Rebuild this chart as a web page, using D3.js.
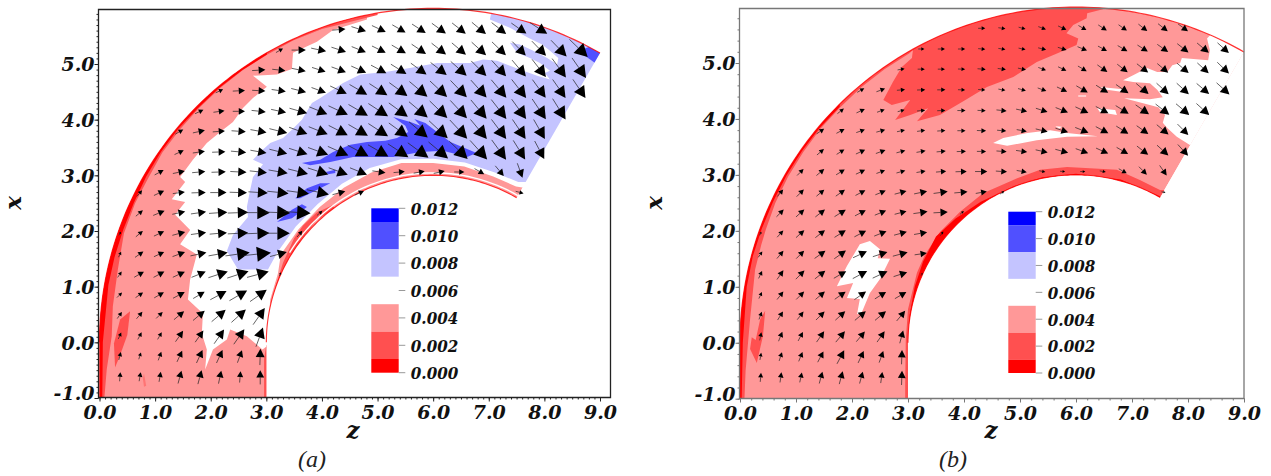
<!DOCTYPE html>
<html><head><meta charset="utf-8">
<script src="https://cdn.jsdelivr.net/npm/d3@7"></script>
<style>html,body{margin:0;padding:0;background:#fff}svg{display:block}</style>
</head><body><svg id="c" width="1271" height="476"></svg>
<script>
// ---- axis labels
const zTicks=[0,1,2,3,4,5,6,7,8,9];
const xTicks=[-1,0,1,2,3,4,5];
const legendLevels=[0.012,0.010,0.008,0.006,0.004,0.002,0.000];
const legendBandEdges=[0.012,0.011,0.009,0.007,0.005,0.003,0.001,0.000];
const legendBandColors=["#0000ff","#5050ff","#c4c4ff","#ffffff","#ff9898","#ff5050","#ff0000"];

// ---- arrow grid
const rowX=[5.62,5.25,4.89,4.52,4.15,3.79,3.42,3.06,2.69,2.33,1.96,1.59,1.23,0.86,0.50,0.13,-0.23,-0.60];
const colZ=[0.37,0.73,1.09,1.45,1.81,2.17,2.53,2.89,3.25,3.61,3.97,4.33,4.69,5.05,5.41,5.77,6.13,6.49,6.85,7.21,7.57,7.93,8.29,8.65];
const rowCols=[
[11,12,13,14,15,16,17,18,19,20,21],
[8,9,10,11,12,13,14,15,16,17,18,19,20,21,22,23],
[7,8,9,10,11,12,13,14,15,16,17,18,19,20,21,22,23],
[5,6,7,8,9,10,11,12,13,14,15,16,17,18,19,20,21,22,23],
[4,5,6,7,8,9,10,11,12,13,14,15,16,17,18,19,20,21,22],
[3,4,5,6,7,8,9,10,11,12,13,14,15,16,17,18,19,20,21],
[3,4,5,6,7,8,9,10,11,12,13,14,15,16,17,18,19,20,21],
[2,3,4,5,6,7,8,9,10,11,12,13,14,15,16,17,18,19,20],
[1,2,3,4,5,6,7,8,9,10,11,12,20],
[1,2,3,4,5,6,7,8,9,10],
[0,1,2,3,4,5,6,7,8,9],
[0,1,2,3,4,5,6,7,8],
[0,1,2,3,4,5,6,7,8],
[0,1,2,3,4,5,6,7],[0,1,2,3,4,5,6,7],[0,1,2,3,4,5,6,7],[0,1,2,3,4,5,6,7],[0,1,2,3,4,5,6,7]];

const speedA=[
[13,15,15,15,16,17,17,18,18,18,20],
[8,14,15,15,15,15,16,17,18,18,19,19,19,20,22,25],
[13,13,14,14,15,16,17,18,19,20,21,21,21,21,22,23,24],
[8,12,13,14,15,15,18,20,21,22,23,23,23,23,23,23,22,22,22],
[9,11,12,14,15,18,19,21,22,23,23,24,24,24,24,24,24,24,24],
[9,12,12,14,16,18,19,20,21,22,23,23,24,25,25,25,24,23,22],
[10,12,13,15,16,18,19,21,22,23,23,24,25,25,25,25,24,22,20],
[10,12,13,14,16,17,19,20,21,20,18,13,11,11,11,10,11,13,15],
[8,11,12,14,16,17,19,21,22,22,13,10,8],
[9,12,13,15,18,20,24,25,26,7],
[4,9,11,13,15,17,20,23,24,8],
[6,10,11,13,16,19,24,27,17],
[7,11,12,13,15,20,22,22,4],
[7,9,11,13,13,18,20,20],
[8,9,9,13,15,18,19,20],
[7,8,8,13,14,17,18,20],
[8,7,9,12,14,14,13,16],
[9,9,10,13,14,13,11,14]];
const angleA=[
[5,-18,-25,-30,-33,-36,-38,-40,-38,-35,-33],
[30,0,-12,-18,-22,-26,-30,-34,-38,-40,-42,-44,-46,-46,-46,-44],
[3,-6,-12,-18,-20,-24,-28,-32,-36,-38,-42,-45,-48,-50,-52,-54,-55],
[25,3,-3,-8,-14,-20,-25,-30,-33,-36,-40,-43,-46,-48,-50,-52,-54,-55,-56],
[25,8,0,-6,-12,-16,-22,-25,-30,-33,-36,-40,-44,-47,-50,-52,-54,-56,-58],
[30,12,4,-4,-10,-14,-20,-22,-27,-30,-33,-36,-40,-43,-47,-50,-53,-56,-60],
[25,8,2,-5,-10,-14,-18,-20,-24,-28,-30,-33,-36,-40,-44,-48,-54,-58,-62],
[28,12,5,2,-3,-6,-10,-14,-18,-20,-22,-8,5,10,12,0,-30,-50,-70],
[50,25,8,2,0,-2,-4,-6,-8,-12,15,25,-15],
[40,22,12,8,4,2,0,-2,-4,40],
[60,40,25,15,8,5,3,2,0,50],
[65,35,25,20,12,10,8,6,15],
[55,30,28,25,22,18,18,15,70],
[45,35,30,28,30,28,30,35],
[55,50,45,40,40,40,42,55],
[65,62,60,55,55,55,55,70],
[75,72,70,65,65,65,70,88],
[85,80,80,75,75,78,85,90]];
const speedB=[
[7,7,7,8,9,9,10,10,11,12,12],
[6,7,7,7,7,7,8,9,10,10,11,12,13,14,15,15],
[7,7,7,7,8,8,8,8,9,10,12,13,14,14,15,15,16],
[8,9,8,8,8,7,7,7,8,9,11,13,14,15,16,16,16,16,17],
[8,9,8,7,8,8,8,8,10,11,12,13,14,14,15,16,17,17,17],
[9,9,9,9,8,8,8,8,9,9,10,12,13,14,14,14,14,15,15],
[9,9,10,10,9,9,9,9,9,10,11,12,13,13,13,13,14,15,15],
[9,10,10,10,9,9,9,10,11,12,11,10,6,5,5,6,9,11,12],
[9,10,10,11,11,11,12,13,14,13,11,5,4],
[10,11,12,13,12,12,12,14,14,5],
[4,9,11,12,13,13,13,13,13,5],
[7,10,11,13,14,15,15,15,12],
[8,11,12,13,14,16,16,14,3],
[7,10,11,12,13,14,13,13],
[8,10,10,12,13,14,14,13],
[8,10,10,13,14,13,13,13],
[7,9,10,12,15,13,12,14],
[9,10,10,12,13,12,11,14]];
const angleB=[
[0,-8,-15,-20,-25,-30,-33,-35,-38,-38,-36],
[0,0,0,-5,-8,-12,-14,-18,-22,-28,-30,-32,-35,-38,-40,-42],
[10,0,0,-2,-5,-8,-12,-20,-25,-30,-35,-38,-38,-40,-40,-42,-44],
[30,20,5,2,0,-2,-5,-10,-15,-20,-25,-30,-32,-35,-40,-42,-42,-40,-42],
[38,25,20,15,5,2,0,-2,-6,-12,-18,-22,-25,-28,-32,-35,-38,-40,-42],
[35,28,20,15,12,8,4,0,-2,-5,-10,-14,-18,-22,-28,-32,-35,-40,-45],
[40,32,25,20,15,10,5,2,0,-4,-8,-12,-15,-20,-24,-30,-38,-42,-48],
[45,40,32,25,20,15,10,5,2,0,-4,-10,-12,-6,0,-10,-30,-45,-55],
[50,45,40,35,28,22,15,12,8,5,10,35,-10],
[45,42,38,32,28,22,15,8,3,40],
[65,48,42,38,32,28,22,15,10,55],
[55,50,45,35,35,25,18,15,8],
[65,55,45,38,30,28,25,18,65],
[65,52,45,40,35,35,32,30],
[70,58,52,45,42,40,40,50],
[78,68,62,55,50,50,55,75],
[80,72,68,62,62,65,70,88],
[85,82,78,75,75,75,82,88]];

// ---- contour regions, panel (a), [z,x]
const aLavender=[[2.49,1.31],[2.29,1.64],[2.40,1.93],[2.67,2.25],[2.65,2.43],[2.71,2.74],[2.76,2.97],[2.94,3.20],[2.76,3.28],[2.89,3.42],[3.07,3.58],[3.30,3.67],[3.46,3.82],[3.64,4.0],[3.82,4.30],[3.97,4.39],[4.38,4.66],[4.69,4.81],[5.17,4.86],[5.58,4.93],[6.07,5.02],[6.66,5.02],[6.90,5.08],[7.15,5.06],[7.38,4.97],[7.62,4.88],[7.87,4.79],[8.10,4.72],[8.01,4.84],[8.10,4.88],[7.92,5.02],[7.74,5.11],[7.51,5.20],[7.38,5.38],[7.56,5.35],[7.80,5.24],[8.05,5.11],[8.23,4.99],[8.25,5.11],[8.10,5.24],[7.96,5.35],[7.71,5.47],[7.38,5.65],[7.02,5.80],[7.1,6.2],[9.5,6.0],[9.5,2.88],[7.53,2.88],[7.11,3.05],[6.57,3.23],[6.0,3.30],[5.42,3.29],[4.86,3.13],[4.36,2.85],[3.92,2.48],[3.53,2.08],[3.20,1.62],[3.03,1.31]];
const aBlue=[[3.64,3.22],[3.97,3.28],[4.20,3.42],[4.51,3.55],[4.81,3.60],[5.14,3.62],[5.35,3.67],[5.55,3.78],[5.50,3.89],[5.28,4.05],[5.59,3.96],[5.77,3.89],[5.66,4.01],[5.86,3.94],[6.07,3.78],[6.31,3.60],[6.78,3.40],[6.61,3.33],[6.18,3.44],[5.77,3.42],[5.28,3.33],[4.56,3.33],[4.15,3.24],[3.79,3.18]];
const aBlueBlob1=[[4.07,3.06],[4.24,3.10],[4.24,3.04],[4.11,3.02]];
const aBlueBlob2=[[3.52,2.59],[3.73,2.77],[3.97,2.86],[4.15,2.86],[3.97,2.77],[3.79,2.68],[3.61,2.59]];
const aBlueBlob3=[[3.19,2.16],[3.46,2.38],[3.64,2.48],[3.73,2.43],[3.61,2.34],[3.46,2.23]];
const aBlueCorner=[[8.68,5.26],[9.3,5.5],[9.3,4.9],[8.91,5.02],[8.73,5.15]];
const aPink=[[4.81,5.80],[4.20,5.61],[3.91,5.40],[3.48,5.20],[3.46,4.91],[3.19,4.81],[2.76,4.79],[3.01,4.59],[2.76,4.39],[2.58,4.21],[2.40,3.96],[2.17,3.78],[1.93,3.58],[1.68,3.28],[1.45,2.97],[1.54,2.88],[1.30,2.57],[1.54,2.52],[1.36,2.29],[1.63,2.02],[1.45,1.76],[1.75,1.58],[1.63,1.13],[1.59,0.77],[1.86,0.52],[1.84,0.16],[1.93,-0.13],[1.90,-0.49],[2.04,-0.13],[2.29,0.05],[2.35,0.23],[2.65,0.11],[2.93,-0.13],[3.01,-0.07],[3.3,-0.07],[3.3,-1.2],[-0.5,-1.2],[-0.5,6.5],[4.81,6.5]];
const aRing=[[3.01,-0.07],[3.07,0.77],[3.21,1.24],[3.26,1.58],[3.58,2.03],[3.96,2.43],[4.40,2.78],[4.89,3.05],[5.43,3.22],[6.0,3.22],[6.56,3.16],[7.08,2.98],[7.49,2.80],[7.8,2.75],[7.6,2.4],[6,2.5],[4.5,1.5],[3.5,0.5],[3.05,-0.07]];
const aRingDark=[[3.03,-0.05],[3.08,0.57],[3.17,1.02],[3.3,1.43],[3.5,1.87],[3.66,2.10],[3.9,2.33],[4.18,2.46],[4.24,2.41],[3.9,2.19],[3.65,1.86],[4,1],[3.05,-0.05]];
const aInletDark=[[2.96,-1.2],[2.96,-0.3],[3.0,-0.05],[3.3,-0.05],[3.3,-1.2]];
const aPocket=[[0.55,0.56],[0.50,0.13],[0.37,-0.23],[0.28,-0.45],[0.26,-0.02],[0.37,0.41]];
const aSliver=[[0.80,-0.56],[0.84,-0.78],[0.80,-0.80],[0.78,-0.65]];
const aOuterDark=[[0.09,-1.2],[0.09,-0.97],[0.13,-0.49],[0.22,0.11],[0.24,0.65],[0.33,1.31],[0.44,1.96],[0.64,2.50],[0.86,2.92],[1.13,3.41],[1.44,3.82],[1.79,4.21],[2.17,4.57],[2.58,4.89],[3.02,5.17],[3.48,5.42],[4.0,5.63],[5,5.88],[5,7],[-1,7],[-1,-1.2]];
const aOuterRed=[[0.05,-1.2],[0.05,-1],[0.06,0],[0.16,1.03],[0.27,1.53],[0.43,2.03],[0.62,2.51],[0.84,2.98],[1.11,3.43],[1.42,3.84],[1.78,4.22],[2.16,4.58],[2.57,4.89],[3.01,5.17],[3.01,7],[-1,7],[-1,-1.2]];

// ---- contour regions, panel (b), [z,x]
const bDark=[[3.07,5.09],[2.89,4.93],[2.73,4.66],[2.56,4.34],[2.71,4.25],[3.04,4.34],[2.77,3.98],[3.04,4.07],[3.36,4.19],[3.16,3.96],[3.57,4.07],[3.98,4.31],[4.41,4.57],[4.88,4.75],[5.30,5.02],[5.66,5.17],[6.01,5.32],[6.04,5.44],[5.83,5.53],[5.95,5.68],[6.19,5.80],[6.20,5.89],[6.48,5.96],[6.48,6.2],[3.2,6.2],[3.1,5.32]];
const bWhiteBlob=[[1.73,1.01],[1.91,1.37],[2.14,1.76],[2.32,1.82],[2.50,1.67],[2.46,1.51],[2.68,1.50],[2.50,1.14],[2.32,0.89],[2.17,0.53],[2.09,0.51],[2.14,0.78],[1.91,0.80],[2.02,1.07]];
const bWhiteOutlet=[[8.34,5.44],[8.48,5.59],[9.29,5.23],[9.3,3.53],[8.04,3.53],[7.80,3.68],[7.63,3.84],[7.55,3.93],[7.59,4.07],[7.47,4.21],[6.86,4.37],[7.32,4.35],[7.55,4.39],[7.45,4.52],[7.32,4.64],[7.02,4.66],[6.84,4.69],[7.02,4.78],[7.27,4.91],[7.45,4.84],[7.63,4.84],[7.72,4.96],[7.86,5.0],[7.89,5.09],[8.36,5.05],[8.39,5.23]];
const bWhiteLong=[[4.52,3.57],[4.70,3.66],[5.13,3.75],[5.54,3.80],[5.84,3.75],[6.39,3.69],[5.84,3.68],[5.30,3.62],[4.77,3.52]];
const bWhiteBit1=[[5.63,3.87],[5.75,3.86],[5.70,3.83]];
const bWhiteBit2=[[6.38,4.19],[6.70,4.16],[6.73,4.07],[6.43,4.12]];
const bWhiteBit3=[[6.04,4.42],[6.18,4.42],[6.18,4.40],[6.04,4.40]];
const bWhiteBit4=[[6.43,4.57],[6.84,4.53],[6.84,4.48],[6.55,4.52]];
const bRingDark=[[2.95,-1.2],[2.95,-0.77],[2.96,0.05],[3.0,0.60],[3.16,1.25],[3.30,1.57],[3.57,1.98],[3.93,2.34],[4.34,2.67],[4.95,2.94],[5.36,3.09],[5.84,3.14],[6.25,3.12],[6.73,3.09],[7.14,2.91],[7.5,2.73],[7.7,2.73],[7.6,2.4],[6,2.5],[4.5,1.5],[3.5,0.5],[3.3,-1.2]];
const bRingRed=[[3.0,0],[3.03,0.5],[3.12,1.0],[3.27,1.45],[3.5,1.9],[3.85,2.22],[4.3,2.52],[4.9,2.80],[5.4,2.96],[6,3.02],[6.8,2.92],[7.5,2.62],[7.6,2.4],[6,2.5],[4.5,1.5],[3.5,0.5],[3.3,0]];
const bPocket=[[0.45,0.57],[0.41,0.12],[0.30,-0.36],[0.18,-0.11],[0.21,0.10],[0.28,0.05],[0.36,0.42]];
const bOuterDark=[[0.08,-1.2],[0.08,-0.99],[0.10,-0.5],[0.18,0.42],[0.27,1.31],[0.38,1.75],[0.46,2.02],[0.63,2.50],[0.86,2.97],[1.13,3.41],[1.44,3.83],[1.79,4.21],[2.17,4.57],[2.58,4.89],[3.02,5.17],[3.10,5.24],[3.1,7],[-1,7],[-1,-1.2]];
const bOuterRed=[[0.03,-1.2],[0.03,-1],[0.05,0],[0.12,1.0],[0.23,1.55],[0.39,2.04],[0.59,2.52],[0.83,2.99],[1.11,3.43],[1.42,3.84],[1.78,4.22],[1.78,7],[-1,7],[-1,-1.2]];

const lavender="#c4c4ff",blue="#5050ff",pink="#ff9898",dark="#ff5050",red="#ff0000";

const layersA=[[aLavender,lavender],[aBlue,blue],[aBlueBlob1,blue],[aBlueBlob2,blue],[aBlueBlob3,blue],[aBlueCorner,blue],
  [aPink,pink],[aRing,pink],[aRingDark,dark],[aInletDark,dark],[aPocket,dark],[aSliver,"#ff7474"],[aOuterDark,dark],[aOuterRed,red]];
const layersB=[[bDark,dark],[bWhiteBlob,"#fff"],[bWhiteOutlet,"#fff"],[bWhiteLong,"#fff"],[bWhiteBit1,"#fff"],[bWhiteBit2,"#fff"],[bWhiteBit3,"#fff"],[bWhiteBit4,"#fff"],
  [bRingDark,dark],[bRingRed,red],[bPocket,dark],[bOuterDark,dark],[bOuterRed,red]];

const panels=[
 {id:"a",base:null,layers:layersA,speed:speedA,angle:angleA,x0:99.5,x9:600,y5:64,ym1:398,
  left:98.5,right:610.5,top:9.5,bottom:397.5,frame:"#222",minor:0.1,
  legY:[208.3,372.7],legX:371.3,capX:312,cap:"(a)",zLab:353,xLab:15,gap:true},
 {id:"b",base:pink,layers:layersB,speed:speedB,angle:angleB,x0:740,x9:1244,y5:63,ym1:398.7,
  left:739.5,right:1244,top:8.5,bottom:398.5,frame:"#777",minor:0.2,
  legY:[211.7,373],legX:1008.3,capX:953,cap:"(b)",zLab:991,xLab:656,gap:false}
];

const svg=d3.select("#c");
const serif="'DejaVu Serif',serif";

panels.forEach(p=>{
  const sx=d3.scaleLinear().domain([0,9]).range([p.x0,p.x9]);
  const sy=d3.scaleLinear().domain([-1,5]).range([p.ym1,p.y5]);
  const line=d3.line().x(d=>sx(d[0])).y(d=>sy(d[1]));
  const polar=(r,deg)=>[6+r*Math.cos(deg*Math.PI/180),r*Math.sin(deg*Math.PI/180)];
  const outerArc=d3.range(180,60,-1).concat([60]).map(t=>polar(6,t));
  const innerArc=d3.range(60,180,1).concat([180]).map(t=>polar(3,t));
  const duct=[[0,-1]].concat(outerArc,innerArc,[[3,-1]]);

  const g=svg.append("g");
  g.append("clipPath").attr("id","duct"+p.id).append("path").attr("d",line(duct)+"Z");

  const field=g.append("g").attr("clip-path",`url(#duct${p.id})`);
  if(p.base) field.append("path").attr("d",line(duct)+"Z").attr("fill",p.base);
  field.selectAll("path.r").data(p.layers).join("path").attr("class","r")
    .attr("d",d=>line(d[0])+"Z").attr("fill",d=>d[1]);

  if(p.gap){
    g.append("path").attr("d",line(d3.range(60,150,2).map(t=>polar(3.045,t))))
     .attr("fill","none").attr("stroke","#fff").attr("stroke-width",1.4);
  }
  // wall lines
  g.append("path").attr("d",line(outerArc)).attr("fill","none").attr("stroke",red).attr("stroke-width",1.2).attr("stroke-opacity",0.8);
  g.append("path").attr("d",line(innerArc)).attr("fill","none").attr("stroke",red).attr("stroke-width",1.1).attr("stroke-opacity",0.8);

  // arrows
  const lenScale=d3.scaleLinear().domain([0,30]).range([0,30]);
  const arrows=[];
  rowX.forEach((xv,i)=>rowCols[i].forEach((k,j)=>{
    arrows.push({z:colZ[k],x:xv,m:p.speed[i][j],a:p.angle[i][j]});
  }));
  const ag=g.append("g");
  arrows.forEach(d=>{
    const L=lenScale(d.m),t=d.a*Math.PI/180,ux=Math.cos(t),uy=-Math.sin(t);
    const cx=sx(d.z),cy=sy(d.x);
    const tx=cx-0.62*L*ux,ty=cy-0.62*L*uy,hx=cx+0.40*L*ux,hy=cy+0.40*L*uy;
    const bx=hx-0.52*L*ux,by=hy-0.52*L*uy,w=0.28*L;
    ag.append("path").attr("d",`M${tx},${ty}L${bx},${by}`).attr("stroke","#222").attr("stroke-width",0.7);
    ag.append("path").attr("d",`M${hx},${hy}L${bx-uy*w},${by+ux*w}L${bx+uy*w},${by-ux*w}Z`).attr("fill","#000");
  });

  // frame
  g.append("path").attr("d",`M${p.left},${p.bottom}V${p.top}H${p.right}V${p.bottom}Z`)
    .attr("fill","none").attr("stroke",p.frame).attr("stroke-width",1.3);

  // axes
  const fmt=d=>d3.format(".1f")(d).replace("\u2212","-");
  const xAxis=d3.axisBottom(sx).tickValues(zTicks).tickFormat(fmt).tickSize(4).tickPadding(3);
  const xa=g.append("g").attr("transform",`translate(0,${p.bottom})`).call(xAxis);
  const xm=d3.axisBottom(sx).tickValues(d3.range(0,9.01,p.minor)).tickFormat("").tickSize(2);
  g.append("g").attr("transform",`translate(0,${p.bottom})`).call(xm).call(s=>s.select(".domain").remove()).selectAll("line").attr("stroke",p.frame);
  const yAxis=d3.axisLeft(sy).tickValues(xTicks).tickFormat(fmt).tickSize(4).tickPadding(0);
  const ya=g.append("g").attr("transform",`translate(${p.left},0)`).call(yAxis);
  const ym=d3.axisLeft(sy).tickValues(d3.range(-1,5.95,p.minor)).tickFormat("").tickSize(2);
  g.append("g").attr("transform",`translate(${p.left},0)`).call(ym).call(s=>s.select(".domain").remove()).selectAll("line").attr("stroke",p.frame);
  [xa,ya].forEach(a=>{
    a.select(".domain").remove();
    a.selectAll("line").attr("stroke",p.frame);
    a.selectAll("text").attr("font-family",serif).attr("font-weight","bold").attr("font-style","italic").attr("font-size",19).attr("fill","#111");
  });
  ya.selectAll("text").attr("dy",d=>d===-1?"0.1em":"0.36em");
  xa.selectAll("text").attr("dy","0.74em");

  // legend
  const ly=d3.scaleLinear().domain([0.012,0]).range(p.legY);
  const lg=g.append("g");
  d3.range(legendBandColors.length).forEach(i=>{
    lg.append("rect").attr("x",p.legX).attr("width",27.4)
      .attr("y",ly(legendBandEdges[i])).attr("height",ly(legendBandEdges[i+1])-ly(legendBandEdges[i]))
      .attr("fill",legendBandColors[i]);
  });
  legendLevels.forEach(v=>{
    lg.append("line").attr("x1",p.legX+27.4).attr("x2",p.legX+34).attr("y1",ly(v)).attr("y2",ly(v)).attr("stroke","#999");
    lg.append("text").attr("x",p.legX+39.5).attr("y",ly(v)).attr("dy","0.36em").text(d3.format(".3f")(v))
      .attr("textLength",47.5).attr("lengthAdjust","spacingAndGlyphs")
      .attr("font-family",serif).attr("font-weight","bold").attr("font-style","italic").attr("font-size",17.5).attr("fill","#111");
  });

  // titles
  g.append("text").attr("x",p.zLab).attr("y",438).attr("text-anchor","middle").text("z")
    .attr("font-family",serif).attr("font-weight","bold").attr("font-style","italic").attr("font-size",23).attr("fill","#111");
  g.append("text").attr("transform",`translate(${p.xLab+6},203) rotate(-90)`).attr("text-anchor","middle").text("x")
    .attr("font-family",serif).attr("font-weight","bold").attr("font-style","italic").attr("font-size",23).attr("fill","#111");
  g.append("text").attr("x",p.capX).attr("y",467).attr("text-anchor","middle").text(p.cap)
    .attr("font-family","'Liberation Serif',serif").attr("font-style","italic").attr("font-size",24).attr("fill","#222");
});
</script></body></html>
